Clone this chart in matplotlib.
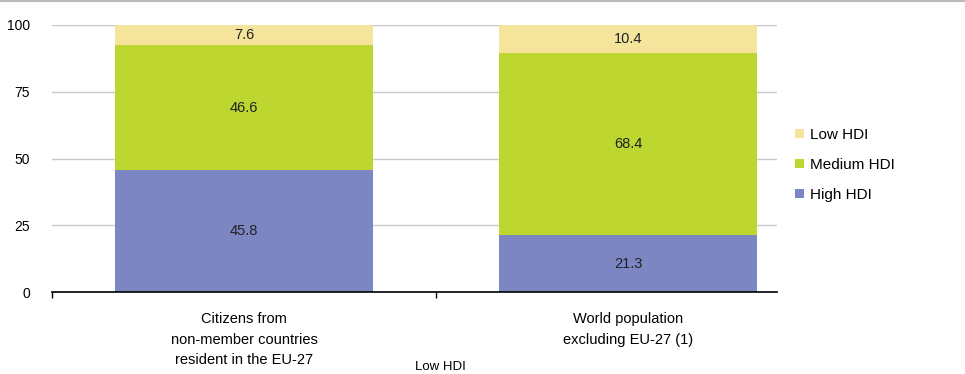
import matplotlib.pyplot as plt
import numpy as np

plt.rcParams['font.family'] = ['Liberation Sans', 'DejaVu Sans']

categories = ["Citizens from\nnon-member countries\nresident in the EU-27",
              "World population\nexcluding EU-27 (1)"]
series_names = ["High HDI", "Medium HDI", "Low HDI"]
high_hdi = [45.8, 21.3]
medium_hdi = [46.6, 68.4]
low_hdi = [7.6, 10.4]

colors = ["#7b86c2", "#bdd630", "#f4e49c"]

fig = plt.figure(figsize=(9.65, 3.74), dpi=100)
ax = fig.add_axes([52 / 965, 82 / 374, 725 / 965, 267 / 374])

x = np.arange(len(categories))
bottom = np.zeros(len(categories))
handles = []
for name, vals, col in zip(series_names, [high_hdi, medium_hdi, low_hdi], colors):
    bars = ax.bar(x, vals, width=0.67, bottom=bottom, color=col, zorder=2, label=name)
    for xi, b, v in zip(x, bottom, vals):
        ax.text(xi, b + v / 2, f"{v:.1f}", ha="center", va="center", fontsize=10.5, color="#222222")
    bottom += np.array(vals)
    handles.append(bars)

ax.set_xlim(-0.5, 1.388)
ax.set_ylim(0, 100)
ax.set_yticks([0, 25, 50, 75, 100])
ax.yaxis.grid(True, color="#c8c8c8", linewidth=1, zorder=0)
ax.tick_params(axis="y", length=0, pad=16, labelsize=10)
ax.set_xticks([-0.5, 0.5])
ax.set_xticklabels([])
ax.tick_params(axis="x", length=4, width=1, direction="out", color="black")
for s in ["left", "right", "top"]:
    ax.spines[s].set_visible(False)
ax.spines["bottom"].set_linewidth(1.2)

for xi, lab in zip(x, categories):
    ax.text(xi, -7.5, lab, ha="center", va="top", fontsize=10.5, linespacing=1.6,
            transform=ax.transData, clip_on=False)

leg = fig.legend(handles[::-1], series_names[::-1], loc="upper left",
                 bbox_to_anchor=(781 / 965, 1 - 114 / 374), frameon=False,
                 handlelength=0.6, handleheight=0.6, handletextpad=0.4,
                 labelspacing=1.05, fontsize=11)

# thin rule along the top edge and the caption below
fig.add_artist(plt.Line2D([0, 1], [0.998, 0.998], color="#bbbbbb", linewidth=1.5))
fig.text(440 / 965, 1 / 374, "Low HDI", ha="center", va="bottom", fontsize=9.5)

fig.savefig("out.png", dpi=100)
